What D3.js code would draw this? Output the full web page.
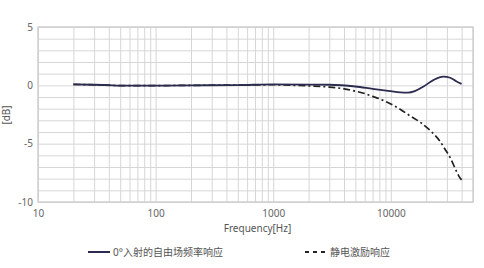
<!DOCTYPE html>
<html>
<head>
<meta charset="utf-8">
<script src="https://cdn.jsdelivr.net/npm/d3@7"></script>
<style>
  html, body { margin: 0; padding: 0; background: #fff; }
  #chart { display: block; }
</style>
</head>
<body>
<span id="chart"></span>
<script>
'use strict';

// frequency response, 0 deg free field (solid)
var freeFreq = [20, 30, 40, 50, 70, 100, 200, 500, 1000, 2000, 3000, 5000, 7000, 10000, 12000, 14000, 16000, 19000, 23000, 28000, 32000, 36000, 40000];
var freeDb   = [0.08, 0.05, 0.01, -0.02, -0.02, -0.02, 0, 0.02, 0.08, 0.06, 0.05, -0.1, -0.3, -0.5, -0.6, -0.63, -0.5, -0.1, 0.45, 0.75, 0.65, 0.35, 0.12];

// electrostatic actuator response (dash-dot)
var actFreq = [20, 30, 50, 100, 200, 500, 1000, 1500, 2000, 3000, 4000, 5000, 6000, 7000, 8000, 10000, 12000, 14500, 18000, 21500, 26000, 29000, 32000, 35000, 38000, 40000];
var actDb   = [0.08, 0.05, -0.02, -0.02, 0, 0.02, 0.05, 0, -0.05, -0.15, -0.3, -0.5, -0.7, -0.95, -1.15, -1.6, -2.05, -2.6, -3.2, -3.85, -4.75, -5.5, -6.2, -7.05, -7.8, -8.1];

var xTicks = [10, 100, 1000, 10000];
var yTicks = [5, 0, -5, -10];
var legendNames = ['0°入射的自由场频率响应', '静电激励响应'];

(function () {
    var w = 484, h = 268;
    var pLeft = 38, pRight = 473, pTop = 27, pBottom = 202;
    var font = '"Noto Sans", "Noto Sans CJK SC", sans-serif';

    var svg = d3.select('#chart')
        .append('svg')
        .attr('width', w)
        .attr('height', h);

    var x = d3.scaleLog().domain([10, 50000]).range([pLeft, pRight]);
    var y = d3.scaleLinear().domain([-10, 5]).range([pBottom, pTop]);

    // vertical grid: 1..9 per decade
    var vGrid = [];
    for (var d = 10; d <= 10000; d *= 10) {
        for (var k = 1; k <= 9; k++) {
            if (d * k <= 50000) vGrid.push(d * k);
        }
    }
    vGrid.push(50000);

    svg.append('g')
        .attr('transform', 'translate(0,' + pBottom + ')')
        .call(d3.axisBottom(x).tickValues(vGrid).tickSize(-(pBottom - pTop)).tickFormat(''))
        .call(function (g) {
            g.select('.domain').remove();
            g.selectAll('line').attr('stroke', '#d6d6d6').attr('stroke-width', 1);
        });

    svg.append('g')
        .attr('transform', 'translate(' + pLeft + ',0)')
        .call(d3.axisLeft(y).tickValues(d3.range(-10, 6, 1)).tickSize(-(pRight - pLeft)).tickFormat(''))
        .call(function (g) {
            g.select('.domain').remove();
            g.selectAll('line').attr('stroke', '#d6d6d6').attr('stroke-width', 1);
        });

    // plot frame
    svg.append('rect')
        .attr('x', pLeft)
        .attr('y', pTop)
        .attr('width', pRight - pLeft)
        .attr('height', pBottom - pTop)
        .attr('fill', 'none')
        .attr('stroke', '#d0d0d0')
        .attr('stroke-width', 1.5);

    // tick labels
    svg.append('g')
        .attr('transform', 'translate(0,' + pBottom + ')')
        .call(d3.axisBottom(x).tickValues(xTicks).tickSize(0).tickPadding(8).tickFormat(d3.format('d')))
        .call(function (g) {
            g.select('.domain').remove();
            g.selectAll('text').attr('font-family', font).attr('font-size', '10px').attr('fill', '#666');
        });

    svg.append('g')
        .attr('transform', 'translate(' + pLeft + ',0)')
        .call(d3.axisLeft(y).tickValues(yTicks).tickSize(0).tickPadding(5).tickFormat(function (d) { return d < 0 ? '-' + (-d) : d; }))
        .call(function (g) {
            g.select('.domain').remove();
            g.selectAll('text').attr('font-family', font).attr('font-size', '10px').attr('fill', '#666');
        });

    // axis titles
    svg.append('text')
        .attr('x', (pLeft + pRight) / 2 + 2)
        .attr('y', 232)
        .attr('text-anchor', 'middle')
        .attr('font-family', font)
        .attr('font-size', '10px')
        .attr('fill', '#555')
        .text('Frequency[Hz]');

    svg.append('text')
        .attr('transform', 'translate(10,115) rotate(-90)')
        .attr('text-anchor', 'middle')
        .attr('font-family', font)
        .attr('font-size', '10px')
        .attr('fill', '#555')
        .text('[dB]');

    // curves
    var line = d3.line()
        .x(function (p) { return x(p[0]); })
        .y(function (p) { return y(p[1]); })
        .curve(d3.curveMonotoneX);

    svg.append('path')
        .datum(d3.zip(actFreq, actDb))
        .attr('d', line)
        .attr('fill', 'none')
        .attr('stroke', '#222')
        .attr('stroke-width', 1.7)
        .attr('stroke-dasharray', '7,3,2,3');

    svg.append('path')
        .datum(d3.zip(freeFreq, freeDb))
        .attr('d', line)
        .attr('fill', 'none')
        .attr('stroke', '#2b2b4f')
        .attr('stroke-width', 1.8);

    // legend
    var legend = svg.append('g');
    var lx = [88, 305];
    legend.selectAll('line')
        .data(legendNames)
        .enter()
        .append('line')
        .attr('x1', function (p, i) { return lx[i]; })
        .attr('x2', function (p, i) { return lx[i] + 22; })
        .attr('y1', 252)
        .attr('y2', 252)
        .attr('stroke', function (p, i) { return i === 0 ? '#2b2b4f' : '#222'; })
        .attr('stroke-width', 2)
        .attr('stroke-dasharray', function (p, i) { return i === 0 ? null : '4,4'; });

    legend.selectAll('text')
        .data(legendNames)
        .enter()
        .append('text')
        .attr('x', function (p, i) { return lx[i] + 25; })
        .attr('y', 255.5)
        .attr('font-family', font)
        .attr('font-size', '10px')
        .attr('fill', '#555')
        .text(function (p) { return p; });
})();
</script>
</body>
</html>
